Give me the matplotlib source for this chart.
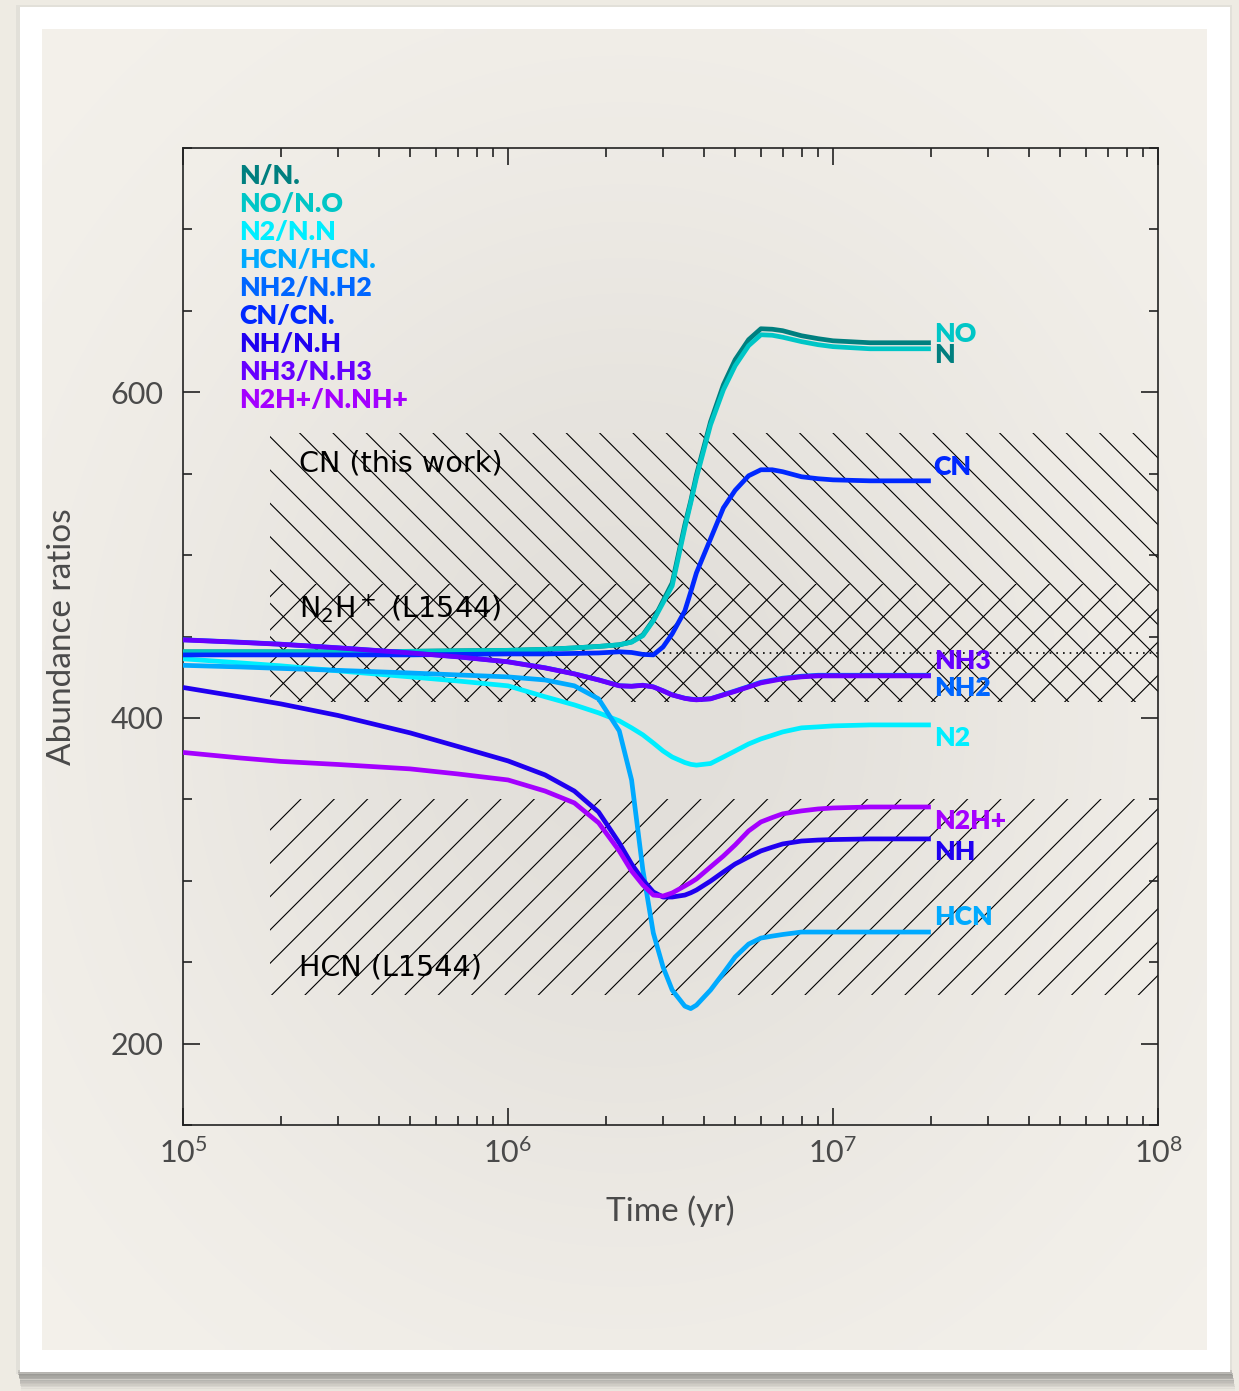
import numpy as np
import matplotlib
matplotlib.use("Agg")
import matplotlib.pyplot as plt
from matplotlib.patches import Rectangle
from matplotlib.ticker import MultipleLocator, LogLocator, NullFormatter

plt.rcParams['font.family'] = ['Lato', 'DejaVu Sans']
plt.rcParams['mathtext.fontset'] = 'custom'
plt.rcParams['mathtext.rm'] = 'Lato'
plt.rcParams['mathtext.default'] = 'regular'
plt.rcParams['hatch.linewidth'] = 0.4

# ----------------------
# Data
# ----------------------
time = [1.0e5, 1.5e5, 2.0e5, 3.0e5, 5.0e5, 7.0e5, 1.0e6, 1.3e6, 1.6e6, 1.9e6,
        2.2e6, 2.4e6, 2.6e6, 2.8e6, 3.0e6, 3.2e6, 3.5e6, 3.65e6, 3.8e6, 4.2e6,
        4.6e6, 5.0e6, 5.5e6, 6.0e6, 6.5e6, 7.0e6, 8.0e6, 9.0e6, 1.0e7, 1.3e7,
        1.6e7, 2.0e7]

ratio_N = [440.6, 440.6, 440.6, 440.6, 440.9, 441.2, 441.5, 442.1, 443.0, 443.9,
           444.9, 446.7, 451.0, 460.2, 471.9, 482.9, 518.6, 533.3, 549.3, 581.9,
           604.6, 620.0, 632.3, 639.0, 638.7, 637.8, 634.7, 632.9, 631.6, 630.4,
           630.4, 630.4]
ratio_NO = [440.6, 440.6, 440.6, 440.6, 440.9, 441.2, 441.5, 442.1, 443.0, 443.9,
            444.9, 446.5, 450.5, 459.6, 470.7, 481.1, 516.7, 532.1, 547.5, 580.0,
            601.5, 616.3, 628.6, 635.3, 635.0, 633.8, 631.1, 629.2, 628.0, 626.7,
            626.7, 626.7]
ratio_N2 = [436.3, 433.8, 432.0, 428.9, 425.2, 422.7, 419.7, 413.0, 408.0, 403.1,
            398.2, 393.9, 389.6, 384.6, 379.7, 376.0, 372.6, 371.5, 371.0, 372.0,
            376.0, 379.7, 384.0, 387.1, 389.3, 391.4, 393.9, 394.5, 395.1, 395.7,
            395.7, 395.7]
ratio_HCN = [432.3, 431.3, 430.4, 429.2, 427.6, 426.4, 425.2, 423.3, 419.7, 411.7,
             392.0, 361.9, 306.6, 267.9, 247.0, 232.9, 223.0, 221.5, 223.6, 232.9,
             243.3, 253.2, 261.1, 264.8, 266.0, 267.0, 268.5, 268.5, 268.5, 268.5,
             268.5, 268.5]
ratio_NH2 = [448.0, 446.5, 445.3, 443.1, 440.0, 437.6, 434.5, 430.8, 427.1, 423.4,
             419.8, 419.5, 420.1, 419.1, 416.7, 414.2, 412.1, 411.6, 411.2, 411.8,
             414.3, 416.6, 419.3, 421.9, 423.2, 424.4, 425.6, 426.2, 426.2, 426.2,
             426.2, 426.2]
ratio_CN = [438.7, 438.7, 438.7, 438.7, 438.7, 439.0, 439.3, 439.3, 439.6, 439.9,
            440.6, 440.2, 439.0, 438.7, 443.6, 451.6, 465.7, 477.4, 489.1, 510.0,
            529.0, 539.8, 548.7, 552.4, 552.4, 551.2, 548.1, 546.9, 546.2, 545.6,
            545.6, 545.6]
ratio_NH = [418.7, 412.9, 408.6, 401.5, 390.8, 382.5, 373.6, 365.0, 355.1, 342.2,
            323.2, 310.3, 300.5, 293.1, 290.0, 290.0, 291.2, 292.6, 294.3, 299.8,
            305.4, 310.3, 314.6, 318.3, 320.6, 322.6, 324.4, 325.0, 325.3, 325.7,
            325.7, 325.7]
ratio_NH3 = [447.9, 446.4, 445.2, 443.0, 439.9, 437.5, 434.4, 430.7, 427.0, 423.3,
             419.7, 419.4, 420.0, 419.0, 416.6, 414.1, 412.0, 411.4, 411.1, 411.7,
             414.1, 416.3, 419.0, 421.5, 422.8, 424.0, 425.2, 425.8, 425.8, 425.8,
             425.8, 425.8]
ratio_N2Hp = [378.8, 375.4, 373.3, 371.4, 368.7, 365.6, 361.9, 355.1, 347.8, 335.6,
              318.3, 306.0, 297.4, 291.2, 290.6, 292.5, 296.8, 298.9, 301.1, 308.5,
              315.2, 322.0, 330.6, 336.1, 338.8, 341.1, 342.9, 344.1, 344.7, 345.3,
              345.3, 345.3]

legend_names = ["N/N.", "NO/N.O", "N2/N.N", "HCN/HCN.", "NH2/N.H2",
                "CN/CN.", "NH/N.H", "NH3/N.H3", "N2H+/N.NH+"]
end_names = ["N", "NO", "N2", "HCN", "NH2", "CN", "NH", "NH3", "N2H+"]
end_label_y = [623, 636, 387.7, 277.7, 418.4, 554.2, 317.7, 435, 336.7]
colors = ['#007f7f', '#00c6c6', '#00eeff', '#00aaff', '#0066ff',
          '#0028ff', '#2000f0', '#6600ff', '#a400ff']
series = [ratio_N, ratio_NO, ratio_N2, ratio_HCN, ratio_NH2,
          ratio_CN, ratio_NH, ratio_NH3, ratio_N2Hp]

# observed ranges (hatched boxes)
obs_start = 1.85e5
obs_end = 1e8
cn_range = (410, 575)
n2hp_range = (410, 482)
hcn_range = (230, 350)
elemental_ratio = 440

# ----------------------
# Figure with a "photo" frame
# ----------------------
W, H = 1239, 1391
fig = plt.figure(figsize=(W / 200, H / 200), dpi=200, facecolor='#eeebe3')

bg = fig.add_axes([0, 0, 1, 1], zorder=-5)
bg.axis('off')
# drop shadow under the frame
for i, a in enumerate(np.linspace(0.35, 0.03, 12)):
    bg.add_patch(Rectangle((18 + i * 0.3, 1370 + i * 1.6), 1214, 3,
                           facecolor='#505050', alpha=a, lw=0, zorder=1))
bg.add_patch(Rectangle((16, 5), 1216, 1369, facecolor='#d8d6d0', lw=0, alpha=0.5, zorder=1))
bg.add_patch(Rectangle((20, 7), 1210, 1365, facecolor='white', lw=0, zorder=2))
# paper with soft vignette
yy, xx = np.mgrid[0:1:200j, 0:1:200j]
d2 = ((xx - 0.5) / 0.55) ** 2 + ((yy - 0.52) / 0.55) ** 2
w = np.exp(-d2 * 1.6)[..., None]
light = np.array([245, 242, 236]) / 255
dark = np.array([226, 223, 218]) / 255
paper = light * (1 - w) + dark * w
bg.imshow(paper, extent=(42, 1207, 1350, 29), aspect='auto',
          interpolation='bilinear', zorder=3)
bg.set_xlim(0, W)
bg.set_ylim(H, 0)

# ----------------------
# Main plot
# ----------------------
ax = fig.add_axes([183 / W, 1 - 1125 / H, 975 / W, 977 / H])
ax.set_facecolor('none')
ax.set_xscale('log')
ax.set_xlim(1e5, 1e8)
ax.set_ylim(150, 750)

# hatched observational ranges
ax.fill_between([obs_start, obs_end], *cn_range, facecolor='none',
                edgecolor='black', hatch='\\\\', lw=0, zorder=1)
ax.fill_between([obs_start, obs_end], *n2hp_range, facecolor='none',
                edgecolor='black', hatch='//', lw=0, zorder=1)
ax.fill_between([obs_start, obs_end], *hcn_range, facecolor='none',
                edgecolor='black', hatch='//', lw=0, zorder=1)
ax.axhline(elemental_ratio, color='black', lw=0.6, ls=(0, (1, 3)), zorder=1.5)

txt = dict(fontsize=10.3, color='black', family=['DejaVu Sans'], va='center', zorder=4)
ax.text(2.28e5, 556, "CN (this work)", **txt)
ax.text(2.28e5, 467, r"N$_2$H$^+$ (L1544)", **txt)
ax.text(2.28e5, 247, "HCN (L1544)", **txt)

# model curves
for vals, col, name, ly in zip(series, colors, end_names, end_label_y):
    ax.plot(time, vals, color=col, lw=1.7, solid_joinstyle='round',
            solid_capstyle='butt', zorder=3)
    ax.text(2.04e7, ly, name, color=col, fontsize=9.6, fontweight='heavy',
            va='center', ha='left', zorder=5)

# legend (coloured labels)
for i, (name, col) in enumerate(zip(legend_names, colors)):
    ax.text(0.0574, 0.9714 - i * 0.02866, name, transform=ax.transAxes,
            color=col, fontsize=9.6, fontweight='heavy', va='center', ha='left')

# ----------------------
# Axes styling
# ----------------------
for s in ax.spines.values():
    s.set_linewidth(0.6)
    s.set_color('#222222')
ax.set_xticks([1e5, 1e6, 1e7, 1e8])
ax.set_xticklabels([r'$\mathregular{10^{5}}$', r'$\mathregular{10^{6}}$',
                    r'$\mathregular{10^{7}}$', r'$\mathregular{10^{8}}$'])
ax.xaxis.set_minor_locator(LogLocator(base=10, subs=np.arange(2, 10)))
ax.xaxis.set_minor_formatter(NullFormatter())
ax.set_yticks([200, 400, 600])
ax.yaxis.set_minor_locator(MultipleLocator(50))
ax.tick_params(which='both', direction='in', top=True, right=True,
               color='#222222', width=0.6)
ax.tick_params(which='major', length=6.1, labelsize=11, labelcolor='#4a4a4a')
ax.tick_params(which='minor', length=3.2)
ax.tick_params(axis='x', which='major', pad=4.5)
ax.tick_params(axis='y', which='major', pad=7)

ax.set_xlabel("Time (yr)", fontsize=12, color='#4a4a4a', labelpad=10)
ax.set_ylabel("Abundance ratios", fontsize=12, color='#4a4a4a', labelpad=12)

fig.savefig("out.png", dpi=200, facecolor=fig.get_facecolor())
